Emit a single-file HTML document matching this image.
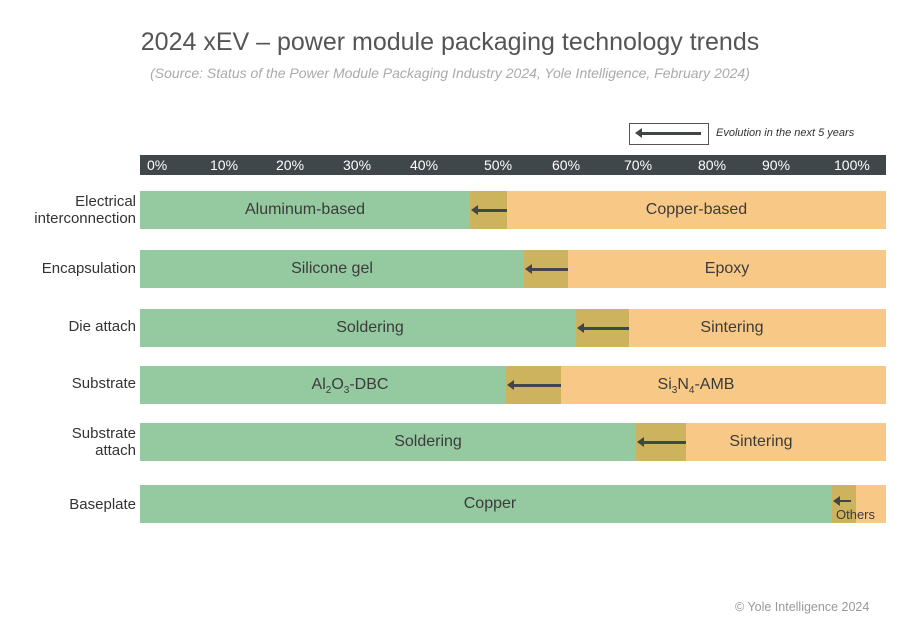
<!DOCTYPE html>
<html><head><style>
body{margin:0;width:900px;height:630px;background:#fff;position:relative;font-family:"Liberation Sans",sans-serif;overflow:hidden}
.a{position:absolute}
.t{color:#fff;font-size:14px;top:157px}
.bar{position:absolute;left:140px;width:746px;height:38px;background:#f8c986}
.g{position:absolute;left:0;top:0;height:100%;background:#95c9a0}
.n{position:absolute;top:0;height:100%;background:#cdb35e}
.l{position:absolute;top:0;line-height:38px;font-size:16px;color:#3b3b3b;text-align:center}
.arr{position:absolute;top:18px;height:3px;background:#3f474b}
.arr:before{content:"";position:absolute;left:-6px;top:-4px;border-right:7px solid #3f474b;border-top:5.5px solid transparent;border-bottom:5.5px solid transparent}
.rl{position:absolute;right:764px;text-align:right;font-size:15px;color:#333;line-height:17px}
</style></head><body>
<div class="a" style="left:0;width:900px;top:28px;text-align:center;font-size:25px;color:#555">2024 xEV – power module packaging technology trends</div>
<div class="a" style="left:0;width:900px;top:65px;text-align:center;font-size:14px;color:#aaa;font-style:italic">(Source: Status of the Power Module Packaging Industry 2024, Yole Intelligence, February 2024)</div>
<div class="a" style="left:629px;top:123px;width:78px;height:20px;border:1px solid #555"></div>
<div class="arr" style="left:641px;top:132px;width:60px"></div>
<div class="a" style="left:716px;top:127px;font-size:11px;font-style:italic;color:#333">Evolution in the next 5 years</div>
<div class="a" style="left:140px;top:155px;width:746px;height:20px;background:#3f474b"></div>
<div class="a t" style="left:147px">0%</div><div class="a t" style="left:210px">10%</div><div class="a t" style="left:276px">20%</div><div class="a t" style="left:343px">30%</div><div class="a t" style="left:410px">40%</div><div class="a t" style="left:484px">50%</div><div class="a t" style="left:552px">60%</div><div class="a t" style="left:624px">70%</div><div class="a t" style="left:698px">80%</div><div class="a t" style="left:762px">90%</div><div class="a t" style="left:834px">100%</div>

<div class="rl" style="top:193px">Electrical<br>interconnection</div>
<div class="bar" style="top:191px"><div class="g" style="width:330px"></div><div class="n" style="left:330px;width:37px"></div><div class="arr" style="left:337px;width:30px"></div><div class="l" style="left:0;width:330px">Aluminum-based</div><div class="l" style="left:367px;width:379px">Copper-based</div></div>

<div class="rl" style="top:260px">Encapsulation</div>
<div class="bar" style="top:250px"><div class="g" style="width:384px"></div><div class="n" style="left:384px;width:44px"></div><div class="arr" style="left:391px;width:37px"></div><div class="l" style="left:0;width:384px">Silicone gel</div><div class="l" style="left:428px;width:318px">Epoxy</div></div>

<div class="rl" style="top:318px">Die attach</div>
<div class="bar" style="top:309px"><div class="g" style="width:436px"></div><div class="n" style="left:436px;width:53px"></div><div class="arr" style="left:443px;width:46px"></div><div class="l" style="left:0;width:460px">Soldering</div><div class="l" style="left:489px;width:206px">Sintering</div></div>

<div class="rl" style="top:375px">Substrate</div>
<div class="bar" style="top:366px"><div class="g" style="width:366px"></div><div class="n" style="left:366px;width:55px"></div><div class="arr" style="left:373px;width:48px"></div><div class="l" style="left:0;width:420px">Al<sub style="font-size:10px">2</sub>O<sub style="font-size:10px">3</sub>-DBC</div><div class="l" style="left:421px;width:270px">Si<sub style="font-size:10px">3</sub>N<sub style="font-size:10px">4</sub>-AMB</div></div>

<div class="rl" style="top:425px">Substrate<br>attach</div>
<div class="bar" style="top:423px"><div class="g" style="width:496px"></div><div class="n" style="left:496px;width:50px"></div><div class="arr" style="left:503px;width:43px"></div><div class="l" style="left:0;width:576px">Soldering</div><div class="l" style="left:546px;width:150px">Sintering</div></div>

<div class="rl" style="top:496px">Baseplate</div>
<div class="bar" style="top:485px"><div class="g" style="width:692px"></div><div class="n" style="left:692px;width:24px"></div><div class="arr" style="left:699px;width:12px;top:15px;height:2px"></div><div class="l" style="left:0;width:700px">Copper</div><div class="a" style="left:696px;top:22px;font-size:13px;color:#3b3b3b">Others</div></div>

<div class="a" style="left:735px;top:600px;font-size:12.5px;color:#999">© Yole Intelligence 2024</div>
</body></html>
